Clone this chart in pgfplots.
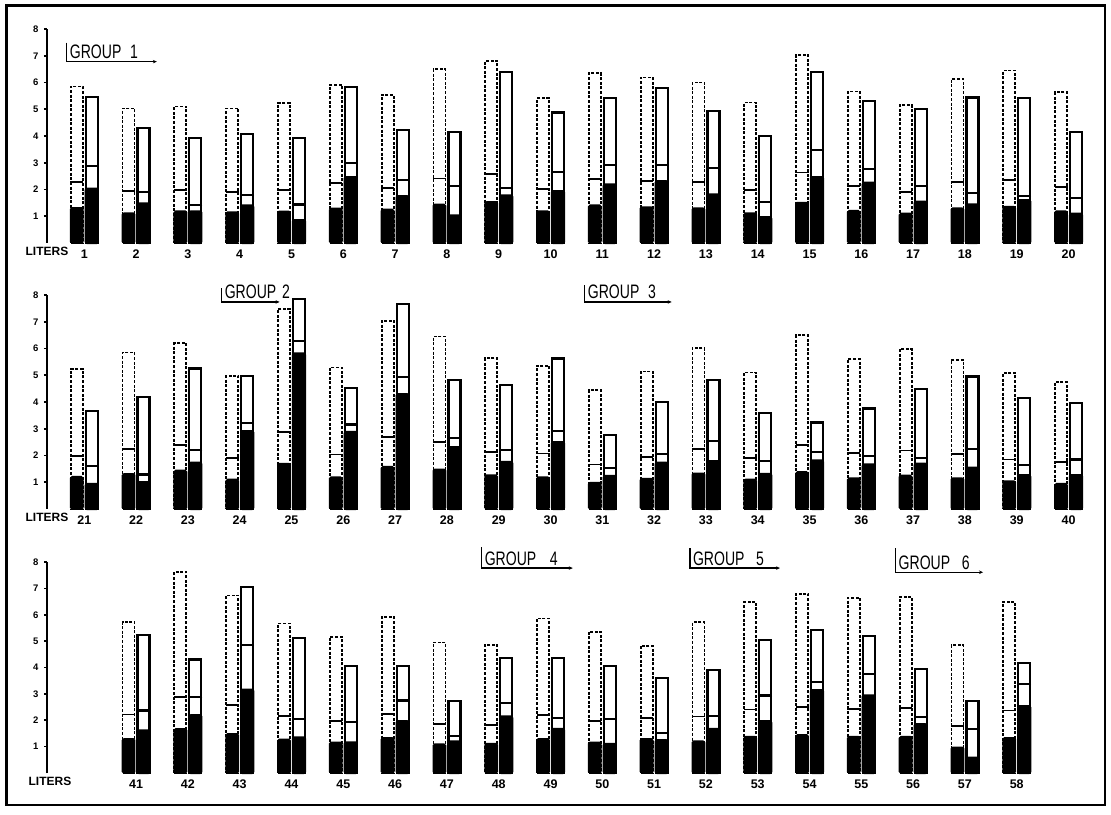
\documentclass[border=0pt]{standalone}
\usepackage{fontspec}
\setmainfont{Liberation Sans}
\newfontfamily\condfont[FakeStretch=0.72]{Liberation Sans}
\usepackage{pgfplots}
\pgfplotsset{compat=1.18}
\usepackage{pgfplotstable}
\usetikzlibrary{arrows.meta}

% columns: slot, dashed bar total, dashed bar mark, dashed bar black part, solid bar total, solid bar mark, solid bar black part
\pgfplotstableread{
x t1 m1 b1 t2 m2 b2
1 5.85 2.28 1.31 5.46 2.88 2.03
2 5.03 1.94 1.11 4.29 1.90 1.48
3 5.10 1.98 1.19 3.94 1.41 1.18
4 5.03 1.90 1.15 4.08 1.79 1.40
5 5.23 1.98 1.18 3.94 1.44 0.85
6 5.91 2.25 1.29 5.84 2.98 2.46
7 5.54 2.06 1.25 4.23 2.35 1.75
8 6.50 2.41 1.44 4.15 2.13 1.03
9 6.81 2.59 1.53 6.40 2.05 1.78
10 5.41 2.03 1.19 4.88 2.65 1.94
11 6.35 2.38 1.41 5.41 2.91 2.19
12 6.19 2.31 1.34 5.79 2.90 2.31
13 6.00 2.28 1.30 4.94 2.79 1.81
14 5.25 1.98 1.11 4.00 1.53 0.96
15 7.03 2.63 1.50 6.40 3.46 2.46
16 5.66 2.13 1.20 5.30 2.75 2.25
17 5.16 1.91 1.10 5.00 2.13 1.54
18 6.13 2.28 1.30 5.44 1.88 1.44
19 6.45 2.35 1.35 5.41 1.75 1.60
20 5.64 2.09 1.19 4.15 1.69 1.09
}\dataA

\pgfplotstableread{
x t1 m1 b1 t2 m2 b2
1 5.23 1.98 1.20 3.66 1.60 0.94
2 5.85 2.23 1.31 4.20 1.29 1.00
3 6.20 2.38 1.44 5.25 2.19 1.73
4 4.98 1.91 1.10 4.98 3.23 2.91
5 7.48 2.88 1.69 7.85 6.29 5.81
6 5.29 2.04 1.19 4.51 3.16 2.88
7 7.04 2.70 1.58 7.66 4.94 4.29
8 6.45 2.50 1.48 4.81 2.66 2.31
9 5.64 2.14 1.26 4.64 2.19 1.76
10 5.36 2.08 1.19 5.63 2.91 2.50
11 4.44 1.66 0.98 2.76 1.54 1.23
12 5.14 1.94 1.13 4.01 2.06 1.73
13 6.01 2.25 1.33 4.81 2.54 1.79
14 5.10 1.91 1.10 3.58 1.81 1.31
15 6.50 2.39 1.38 3.23 2.14 1.81
16 5.60 2.10 1.15 3.76 1.98 1.66
17 5.98 2.19 1.25 4.48 1.89 1.69
18 5.58 2.06 1.15 4.95 2.23 1.54
19 5.08 1.85 1.04 4.16 1.66 1.26
20 4.75 1.75 0.94 3.95 1.85 1.26
}\dataB

\pgfplotstableread{
x t1 m1 b1 t2 m2 b2
2 5.73 2.22 1.29 5.23 2.37 1.61
3 7.62 2.87 1.67 4.30 2.87 2.19
4 6.73 2.57 1.48 7.05 4.84 3.16
5 5.67 2.15 1.27 5.13 2.05 1.35
6 5.16 1.96 1.16 4.05 1.94 1.16
7 5.92 2.24 1.33 4.05 2.75 1.96
8 4.95 1.85 1.09 2.72 1.39 1.20
9 4.86 1.82 1.11 4.35 2.64 2.14
10 5.86 2.20 1.29 4.35 2.08 1.67
11 5.36 1.98 1.16 4.05 2.05 1.10
12 4.83 2.08 1.29 3.60 1.53 1.24
13 5.71 2.14 1.20 3.90 2.15 1.67
14 6.48 2.41 1.37 5.04 2.94 1.96
15 6.80 2.51 1.44 5.42 3.46 3.14
16 6.65 2.42 1.37 5.19 3.76 2.94
17 6.68 2.46 1.37 3.95 2.14 1.85
18 4.85 1.78 0.97 2.72 1.66 0.58
19 6.49 2.37 1.33 4.18 3.39 2.53
}\dataC

\pgfplotsset{
  panel/.style={
    scale only axis, width=1047.4pt,
    xmin=0.28, xmax=20.5, ymin=0, ymax=8,
    axis x line*=bottom, axis y line*=left,
    x axis line style={draw=none},
    y axis line style={line width=2.6pt},
    ytick={1,2,3,4,5,6,7,8}, yticklabels={1,2,3,4,5,6,7,8},
    xtick style={draw=none},
    ytick style={line width=1.6pt, black},
    major tick length=3pt, tick align=outside,
    clip=false,
    xticklabel style={font=\bfseries\fontsize{12.5}{12.5}\selectfont},
    yticklabel style={font=\bfseries\fontsize{9.5}{9.5}\selectfont, xshift=-2pt},
  },
  dashbar/.style={ybar, bar width=12pt, bar shift=-7.5pt, draw=black, line width=1.8pt, dash pattern=on 3pt off 1.6pt, fill=white},
  solidbar/.style={ybar, bar width=12pt, bar shift=7.5pt, draw=black, line width=2.2pt, fill=white},
  blackL/.style={ybar, bar width=12pt, bar shift=-7.5pt, draw=black, fill=black, line width=1.8pt, rounded corners=1.5pt},
  blackR/.style={ybar, bar width=12pt, bar shift=7.5pt, draw=black, fill=black, line width=2.2pt, rounded corners=1.5pt},
  markL/.style={only marks, mark=-, mark size=6.5pt, mark options={line width=1.7pt, solid}},
  markR/.style={only marks, mark=-, mark size=6.9pt, mark options={line width=2.1pt, solid}},
}
\tikzset{
  grp/.style={font=\condfont\fontsize{19.5}{19.5}\selectfont, anchor=base west, inner sep=0pt},
  grpline/.style={line width=1.5pt, -{Stealth[length=4pt,width=3.5pt]}},
  lit/.style={font=\bfseries\fontsize{12}{12}\selectfont, anchor=north, inner sep=4pt},
  yax/.style={line width=2.6pt, black},
}

\newcommand{\bars}[1]{%
  \addplot[dashbar] table[x=x, y=t1] {#1};
  \addplot[solidbar] table[x=x, y=t2] {#1};
  \addplot[markL] table[x expr=\thisrow{x}-0.1448, y=m1] {#1};
  \addplot[markR] table[x expr=\thisrow{x}+0.1448, y=m2] {#1};
  \addplot[blackL] table[x=x, y=b1] {#1};
  \addplot[blackR] table[x=x, y=b2] {#1};
}

\begin{document}
\begin{tikzpicture}
\path[use as bounding box] (0pt,0pt) rectangle (1111pt,814pt);
\draw[line width=2.6pt] (6.5pt,808.5pt) rectangle (1105pt,9pt);

% top panel
\begin{axis}[panel, at={(47pt,571pt)}, anchor=south west, height=214pt,
  xtick={1,...,20},
  xticklabels={1,2,3,4,5,6,7,8,9,10,11,12,13,14,15,16,17,18,19,20}]
  \bars{\dataA}
  \draw[yax] (axis cs:0.28,0) -- (axis cs:0.28,8);
  \draw[grpline] (axis cs:0.66,7.49) -- (axis cs:0.66,6.78) -- (axis cs:2.40,6.78);
  \node[grp] at ([xshift=3pt,yshift=3pt]axis cs:0.66,6.78) {GROUP\hspace{0.45em}1};
  \node[lit] at (axis cs:0.28,0) {LITERS};
\end{axis}

% middle panel
\begin{axis}[panel, at={(47pt,305pt)}, anchor=south west, height=214pt,
  xtick={1,...,20},
  xticklabels={21,22,23,24,25,26,27,28,29,30,31,32,33,34,35,36,37,38,39,40}]
  \bars{\dataB}
  \draw[yax] (axis cs:0.28,0) -- (axis cs:0.28,8);
  \draw[grpline] (axis cs:3.65,8.26) -- (axis cs:3.65,7.74) -- (axis cs:4.77,7.74);
  \node[grp] at ([xshift=3pt,yshift=3pt]axis cs:3.65,7.74) {GROUP\hspace{0.3em}2};
  \draw[grpline] (axis cs:10.66,8.37) -- (axis cs:10.66,7.74) -- (axis cs:12.34,7.74);
  \node[grp] at ([xshift=3pt,yshift=3pt]axis cs:10.66,7.74) {GROUP\hspace{0.45em}3};
  \node[lit] at (axis cs:0.28,0) {LITERS};
\end{axis}

% bottom panel
\begin{axis}[panel, at={(47pt,41pt)}, anchor=south west, height=211pt,
  xtick={2,...,19},
  xticklabels={41,42,43,44,45,46,47,48,49,50,51,52,53,54,55,56,57,58}]
  \bars{\dataC}
  \draw[yax] (axis cs:0.28,0) -- (axis cs:0.28,8);
  \draw[grpline] (axis cs:8.67,8.56) -- (axis cs:8.67,7.77) -- (axis cs:10.43,7.77);
  \node[grp] at ([xshift=3pt,yshift=3pt]axis cs:8.67,7.77) {GROUP\hspace{0.7em}4};
  \draw[grpline] (axis cs:12.69,8.52) -- (axis cs:12.69,7.77) -- (axis cs:14.43,7.77);
  \node[grp] at ([xshift=3pt,yshift=3pt]axis cs:12.69,7.77) {GROUP\hspace{0.6em}5};
  \draw[grpline] (axis cs:16.66,8.52) -- (axis cs:16.66,7.61) -- (axis cs:18.35,7.61);
  \node[grp] at ([xshift=3pt,yshift=3pt]axis cs:16.66,7.61) {GROUP\hspace{0.6em}6};
  \node[lit, xshift=3pt] at (axis cs:0.28,0) {LITERS};
\end{axis}
\end{tikzpicture}
\end{document}
